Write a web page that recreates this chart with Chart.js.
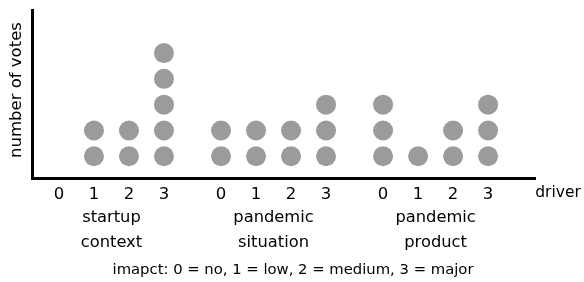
<!DOCTYPE html>
<html>
<head>
<meta charset="utf-8">
<script src="https://cdn.jsdelivr.net/npm/chart.js@4"></script>
<style>
html,body{margin:0;padding:0;background:#fff;}
#wrap{width:584px;height:282px;position:relative;}
</style>
</head>
<body>
<div id="wrap"><canvas id="c" width="584" height="282"></canvas></div>
<script>
// ---- data ----
const groups = [['startup', 'context'], ['pandemic', 'situation'], ['pandemic', 'product']];
const levels = ['0', '1', '2', '3'];
const startupContextVotes = [0, 2, 2, 5];
const pandemicSituationVotes = [2, 2, 2, 3];
const pandemicProductVotes = [3, 1, 2, 3];
const axisLabelY = 'number of votes';
const axisLabelX = 'driver';
const footnote = 'imapct: 0 = no, 1 = low, 2 = medium, 3 = major';

const votesByGroup = [startupContextVotes, pandemicSituationVotes, pandemicProductVotes];
const groupOffset = 4.63;

const points = [];
const tickValues = [];
const tickText = {};
votesByGroup.forEach((votes, g) => {
  levels.forEach((lv, i) => {
    const x = g * groupOffset + i;
    tickValues.push(x);
    tickText[x.toFixed(3)] = lv;
    for (let k = 1; k <= votes[i]; k++) points.push({x: x, y: k});
  });
});

const FONT = 'DejaVu Sans';

const extraText = {
  id: 'extraText',
  afterDraw(chart) {
    const ctx = chart.ctx;
    const xs = chart.scales.x;
    ctx.save();
    ctx.fillStyle = '#000';
    ctx.textAlign = 'center';
    ctx.textBaseline = 'middle';
    ctx.font = '16.3px "' + FONT + '"';
    groups.forEach((lines, g) => {
      const cx = xs.getPixelForValue(g * groupOffset + 1.5);
      ctx.fillText(lines[0], cx, 218);
      ctx.fillText(lines[1], cx, 243);
    });
    ctx.font = '14.8px "' + FONT + '"';
    ctx.fillText(footnote, 293, 270);
    ctx.font = '15.5px "' + FONT + '"';
    ctx.fillText(axisLabelX, 558, 193);
    // y axis label
    ctx.translate(17, 90);
    ctx.rotate(-Math.PI / 2);
    ctx.font = '16.5px "' + FONT + '"';
    ctx.fillText(axisLabelY, 0, 0);
    ctx.restore();
  }
};

new Chart(document.getElementById('c'), {
  type: 'scatter',
  data: {
    datasets: [{
      data: points,
      backgroundColor: '#9b9b9b',
      borderWidth: 0,
      pointRadius: 10,
      pointHoverRadius: 10
    }]
  },
  options: {
    responsive: false,
    animation: false,
    events: [],
    layout: {padding: {left: 0, right: 49, top: 8, bottom: 0}},
    plugins: {legend: {display: false}, tooltip: {enabled: false}},
    scales: {
      x: {
        type: 'linear',
        min: -0.77,
        max: 13.6,
        grid: {display: false, drawTicks: false},
        border: {display: true, color: '#000', width: 3},
        afterBuildTicks: (s) => { s.ticks = tickValues.map(v => ({value: v})); },
        afterFit: (s) => { s.height = 104; },
        ticks: {
          autoSkip: false,
          maxRotation: 0,
          padding: 7,
          color: '#000',
          font: {family: FONT, size: 16.5},
          callback: (v) => tickText[Number(v).toFixed(3)] || ''
        }
      },
      y: {
        type: 'linear',
        min: 0.157,
        max: 6.67,
        grid: {display: false, drawTicks: false},
        border: {display: true, color: '#000', width: 3},
        ticks: {display: false},
        afterFit: (s) => { s.width = 32; }
      }
    }
  },
  plugins: [extraText]
});
</script>
</body>
</html>
